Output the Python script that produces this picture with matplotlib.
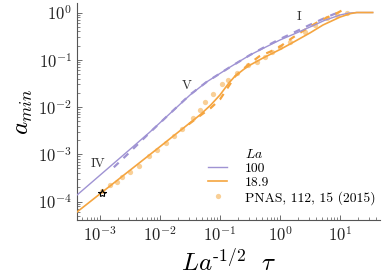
import numpy as np
import matplotlib
matplotlib.use("Agg")
import matplotlib.pyplot as plt
from matplotlib.lines import Line2D

plt.rcParams['font.family'] = ['cmr10', 'DejaVu Serif']
plt.rcParams['mathtext.fontset'] = 'cm'
plt.rcParams['axes.formatter.use_mathtext'] = True

# La = 100 (purple)
x_100 = [4.14e-4, 1e-3, 3e-3, 6.8e-3, 0.0147, 0.0316, 0.06, 0.147, 0.316, 0.55, 1.0, 1.8, 3.16, 5.5, 10, 14, 19, 35]
y_100 = [1.37e-4, 3.6e-4, 1.2e-3, 2.96e-3, 7.3e-3, 0.0179, 0.034, 0.070, 0.126, 0.18, 0.262, 0.36, 0.493, 0.68, 0.886, 0.97, 1.0, 1.0]
# La = 100 dashed
xd_100 = [1.7e-3, 3e-3, 6.8e-3, 0.0147, 0.0316, 0.06, 0.147, 0.316, 0.55, 1.0, 1.8, 3.16, 5.5, 8, 10]
yd_100 = [5.3e-4, 1.05e-3, 2.9e-3, 7.3e-3, 0.0182, 0.034, 0.07, 0.126, 0.185, 0.275, 0.39, 0.55, 0.76, 0.93, 1.0]

# La = 18.9 (orange)
x_189 = [4.14e-4, 1e-3, 3e-3, 1e-2, 0.0192, 0.0464, 0.07, 0.1, 0.14, 0.178, 0.25, 0.316, 0.5, 1.0, 1.47, 3.16, 5.2, 10, 15, 19, 35]
y_189 = [6.0e-5, 1.45e-4, 4.35e-4, 1.45e-3, 2.8e-3, 6.8e-3, 0.011, 0.018, 0.032, 0.045, 0.063, 0.077, 0.106, 0.165, 0.215, 0.37, 0.544, 0.80, 0.95, 1.0, 1.0]
xd_189 = [0.03, 0.05, 0.07, 0.1, 0.13, 0.18, 0.3, 0.45, 0.7, 1.0, 1.6, 2.5, 4, 6, 9, 13]
yd_189 = [4.3e-3, 7.0e-3, 9.5e-3, 0.0145, 0.024, 0.045, 0.08, 0.118, 0.15, 0.19, 0.29, 0.42, 0.6, 0.78, 0.98, 1.25]

# PNAS, 112, 15 (2015)
x_pnas = [1.08e-3, 1.47e-3, 1.92e-3, 2.33e-3, 3.16e-3, 4.47e-3, 6.56e-3, 8.9e-3, 0.0126, 0.0171,
          0.0233, 0.0355, 0.0464, 0.0562, 0.0764, 0.108, 0.136, 0.192, 0.293, 0.414, 0.562, 0.736,
          1.0, 1.47, 2.61, 3.83, 6.06, 8.9, 13.1]
y_pnas = [1.67e-4, 2.23e-4, 2.59e-4, 3.30e-4, 4.21e-4, 5.64e-4, 9.2e-4, 1.23e-3, 1.73e-3, 2.43e-3,
          3.42e-3, 5.85e-3, 8.6e-3, 0.0128, 0.0188, 0.0307, 0.0372, 0.0525, 0.0774, 0.0896, 0.114, 0.146,
          0.186, 0.238, 0.386, 0.544, 0.765, 0.885, 0.98]

star_x = [1.08e-3]
star_y = [1.51e-4]

regime_labels = ['IV', 'V', 'I']
regime_x = [9.3e-4, 0.028, 2.07]
regime_y = [6.2e-4, 0.0278, 0.80]

purple = '#9F93D3'
orange = '#F5A540'
dotc = '#F8C784'

fig = plt.figure(figsize=(3.82, 2.78), dpi=100)
ax = fig.add_axes([77/382, 1 - 220/278, (380 - 77)/382, (220 - 3)/278])

ax.plot(xd_100, yd_100, color=purple, lw=1.6, ls=(0, (3, 3)), zorder=2)
ax.plot(xd_189, yd_189, color=orange, lw=1.6, ls=(0, (3, 3)), zorder=2)
l1, = ax.plot(x_100, y_100, color=purple, lw=1.0, zorder=3)
l2, = ax.plot(x_189, y_189, color=orange, lw=1.2, zorder=3)
l3, = ax.plot(x_pnas, y_pnas, 'o', color=dotc, ms=3.8, alpha=0.85, mec='none', zorder=1)
ax.plot(star_x, star_y, '*', ms=6, mfc='none', mec='black', mew=0.8, zorder=4)

for t, xx, yy in zip(regime_labels, regime_x, regime_y):
    ax.text(xx, yy, t, fontsize=9.5, ha='center', va='center', color='#333333')

ax.set_xscale('log')
ax.set_yscale('log')
ax.set_xlim(4.14e-4, 46.4)
ax.set_ylim(4.06e-5, 1.59)

for s in ['top', 'right']:
    ax.spines[s].set_visible(False)
for s in ['left', 'bottom']:
    ax.spines[s].set_color('#555555')
    ax.spines[s].set_linewidth(0.8)

ax.tick_params(which='major', direction='in', length=3.5, width=0.6, labelsize=12, colors='#555555', labelcolor='#222222')
ax.tick_params(which='minor', direction='in', length=2, width=0.5, colors='#555555')
ax.xaxis.set_major_locator(matplotlib.ticker.LogLocator(base=10, numticks=10))
ax.yaxis.set_major_locator(matplotlib.ticker.LogLocator(base=10, numticks=10))

ax.set_xlabel(r'$La^{\text{-}1/2}\ \ \tau$', fontsize=18, labelpad=4)
ax.set_ylabel(r'$a_{min}$', fontsize=18, labelpad=2)

blank = Line2D([], [], color='none')
leg = ax.legend([blank, l1, l2, l3], [r'$La$', '100', '18.9', 'PNAS, 112, 15 (2015)'],
                loc='lower right', bbox_to_anchor=(381/382, 1 - 210/278), bbox_transform=fig.transFigure,
                frameon=False, fontsize=9.8, handlelength=1.4, borderaxespad=0, borderpad=0.4,
                labelspacing=0.12, handletextpad=1.3)

fig.savefig('out.png', dpi=100)
